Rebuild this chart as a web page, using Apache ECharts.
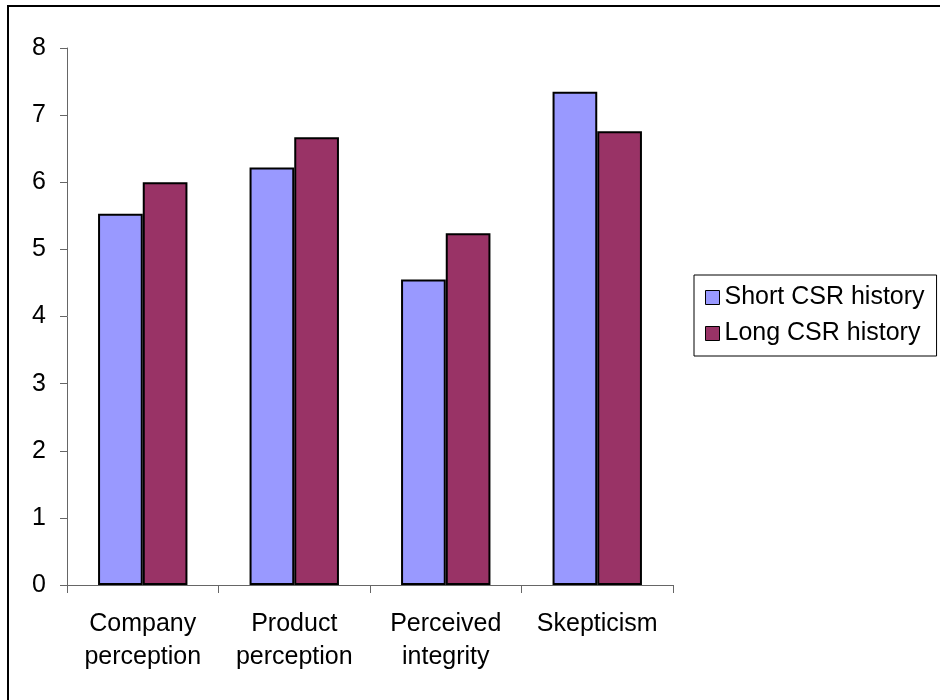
<!DOCTYPE html>
<html>
<head>
<meta charset="utf-8">
<script src="https://cdn.jsdelivr.net/npm/echarts@6/dist/echarts.min.js"></script>
<style>
  html, body { margin: 0; padding: 0; background: #fff; }
  #chart { width: 940px; height: 700px; }
</style>
</head>
<body>
<div id="chart"></div>
<script>
// Mean ratings by CSR history length
const categories = ['Company\nperception', 'Product\nperception', 'Perceived\nintegrity', 'Skepticism'];
const shortHistory = [5.53, 6.22, 4.55, 7.35];
const longHistory = [6.0, 6.67, 5.24, 6.76];
const seriesNames = ['Short CSR history', 'Long CSR history'];
const yTicks = { min: 0, max: 8, interval: 1 };

const font = 'Arial, "Liberation Sans", sans-serif';
const axisColor = '#666';

const chart = echarts.init(document.getElementById('chart'), null, { renderer: 'canvas' });
chart.setOption({
  backgroundColor: '#ffffff',
  animation: false,
  textStyle: { fontFamily: font },
  graphic: [{
    type: 'rect',
    shape: { x: 8, y: 6, width: 960, height: 720 },
    style: { fill: 'none', stroke: '#000', lineWidth: 2 },
    silent: true
  }],
  grid: { left: 67, right: 267, top: 48, bottom: 115 },
  legend: {
    orient: 'vertical',
    left: 694,
    top: 275,
    padding: [10, 12, 10, 11],
    itemGap: 11,
    itemWidth: 14,
    itemHeight: 14,
    itemTextGap: 12,
    icon: 'rect',
    borderColor: '#000',
    borderWidth: 1,
    textStyle: { fontSize: 25, color: '#000', fontFamily: font },
    itemStyle: { borderColor: '#000', borderWidth: 1 },
    data: seriesNames
  },
  xAxis: {
    type: 'category',
    data: categories,
    axisLine: { lineStyle: { color: axisColor, width: 1 } },
    axisTick: { show: true, length: 8, lineStyle: { color: axisColor } },
    axisLabel: { fontSize: 25, color: '#000', lineHeight: 33, margin: 23, interval: 0, fontFamily: font }
  },
  yAxis: {
    type: 'value',
    min: yTicks.min,
    max: yTicks.max,
    interval: yTicks.interval,
    splitLine: { show: false },
    axisLine: { show: true, lineStyle: { color: axisColor, width: 1 } },
    axisTick: { show: true, length: 7, lineStyle: { color: axisColor } },
    axisLabel: { fontSize: 25, color: '#000', margin: 21, fontFamily: font }
  },
  series: [
    {
      name: seriesNames[0],
      type: 'bar',
      data: shortHistory,
      barGap: '0%',
      barCategoryGap: '41%',
      itemStyle: { color: '#9999FF', borderColor: '#000', borderWidth: 2 }
    },
    {
      name: seriesNames[1],
      type: 'bar',
      data: longHistory,
      itemStyle: { color: '#993366', borderColor: '#000', borderWidth: 2 }
    }
  ]
});
</script>
</body>
</html>
